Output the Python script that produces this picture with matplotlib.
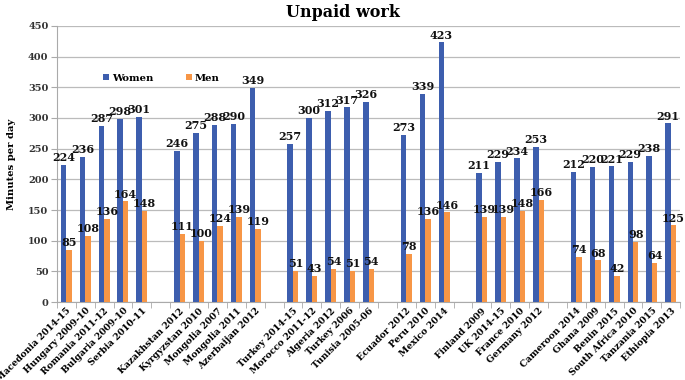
import matplotlib
matplotlib.use("Agg")
import matplotlib.pyplot as plt
import numpy as np

groups = [
    ["Macedonia 2014-15", "Hungary 2009-10", "Romania 2011-12", "Bulgaria 2009-10", "Serbia 2010-11"],
    ["Kazakhstan 2012", "Kyrgyzstan 2010", "Mongolia 2007", "Mongolia 2011", "Azerbaijan 2012"],
    ["Turkey 2014-15", "Morocco 2011-12", "Algeria 2012", "Turkey 2006", "Tunisia 2005-06"],
    ["Ecuador 2012", "Peru 2010", "Mexico 2014"],
    ["Finland 2009", "UK 2014-15", "France 2010", "Germany 2012"],
    ["Cameroon 2014", "Ghana 2009", "Benin 2015", "South Africa 2010", "Tanzania 2015", "Ethiopia 2013"],
]
women = [224, 236, 287, 298, 301,
         246, 275, 288, 290, 349,
         257, 300, 312, 317, 326,
         273, 339, 423,
         211, 229, 234, 253,
         212, 220, 221, 229, 238, 291]
men = [85, 108, 136, 164, 148,
       111, 100, 124, 139, 119,
       51, 43, 54, 51, 54,
       78, 136, 146,
       139, 139, 148, 166,
       74, 68, 42, 98, 64, 125]

labels = []
pos = []
slot = 0
for g in groups:
    for name in g:
        labels.append(name)
        pos.append(slot + 0.5)
        slot += 1
    slot += 1
nslots = slot - 1
pos = np.array(pos)

blue = "#3D5EAE"
orange = "#F79646"
serif = "DejaVu Serif"

fig = plt.figure(figsize=(6.85, 3.8), dpi=100)
ax = fig.add_axes([0.083, 0.205, 0.91, 0.727])

w = 0.29
ax.bar(pos - w / 2, women, w, color=blue, label="Women", zorder=3)
ax.bar(pos + w / 2, men, w, color=orange, label="Men", zorder=3)

for x, v in zip(pos, women):
    ax.text(x - w / 2, v + 3, str(v), ha="center", va="bottom", fontsize=8,
            fontweight="bold", family=serif, color="#111111", zorder=4)
for x, v in zip(pos, men):
    ax.text(x + w / 2, v + 3, str(v), ha="center", va="bottom", fontsize=8,
            fontweight="bold", family=serif, color="#111111", zorder=4)

ax.set_xlim(0, nslots)
ax.set_ylim(0, 450)
ax.set_yticks(np.arange(0, 451, 50))
ax.yaxis.grid(True, color="#BBBBBB", linewidth=0.9, zorder=0)
ax.set_axisbelow(True)

ax.set_xticks(pos)
ax.set_xticklabels(labels, rotation=45, ha="right", rotation_mode="anchor",
                   fontsize=6.6, fontweight="bold", family=serif)
ax.tick_params(axis="x", which="major", length=0, pad=3)
ax.set_xticks(np.arange(0, nslots + 1), minor=True)
ax.tick_params(axis="x", which="minor", length=4, color="#AAAAAA", direction="out")
ax.tick_params(axis="y", length=4, color="#AAAAAA", labelsize=7, pad=2)
for t in ax.get_yticklabels():
    t.set_fontweight("bold")
    t.set_family(serif)
    t.set_color("#333333")

for s in ["top", "right"]:
    ax.spines[s].set_visible(False)
for s in ["left", "bottom"]:
    ax.spines[s].set_color("#AAAAAA")

ax.set_ylabel("Minutes per day", fontsize=7.2, fontweight="bold", family=serif, labelpad=9)
fig.suptitle("Unpaid work", fontsize=11.5, fontweight="bold", family=serif, y=0.99)

leg = ax.legend(loc="upper left", bbox_to_anchor=(0.06, 0.86), ncol=2, frameon=False,
                handlelength=0.6, handleheight=0.6, handletextpad=0.3, columnspacing=3.2,
                prop={"family": serif, "size": 7.2, "weight": "bold"})

fig.savefig("out.png", dpi=100)
